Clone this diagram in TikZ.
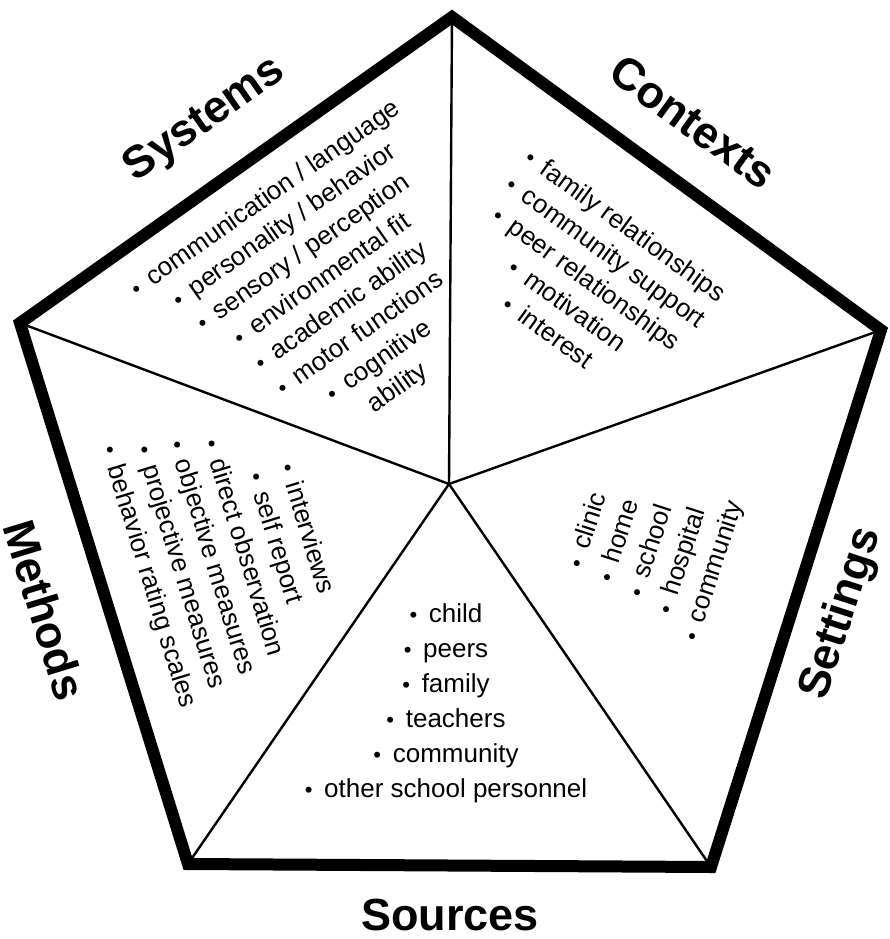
\documentclass[tikz,border=0pt]{standalone}
\usepackage{fontspec}
\setmainfont{Liberation Sans}
\newcommand\bul{{\fontsize{22}{22}\selectfont •}\hspace{0.45em}}
\begin{document}
\begin{tikzpicture}[x=1pt,y=-1pt,
  rim/.style={line width=12pt,line join=miter},
  spoke/.style={line width=2.4pt},
  title/.style={font=\fontsize{45}{45}\selectfont\bfseries,inner sep=0pt},
  lst/.style={align=center,font=\fontsize{26}{33}\selectfont,inner sep=0pt},
  lstwide/.style={lst,font=\fontsize{26}{35}\selectfont}]
\path[use as bounding box] (0,0) rectangle (889,939);

% pentagon corners and hub
\coordinate (t)  at (452,17);
\coordinate (r)  at (881,330);
\coordinate (br) at (711,867);
\coordinate (bl) at (188,864);
\coordinate (l)  at (20,323);
\coordinate (c)  at (449,484);

% spokes from the hub
\foreach \v in {t,r,br,bl,l} \draw[spoke] (c) -- (\v);

% outer rim
\draw[rim] (t) -- (r) -- (br) -- (bl) -- (l) -- cycle;

% section titles
\node[title,rotate=35]  (systems)  at (205,120) {Systems};
\node[title,rotate=-36] (contexts) at (693,122) {Contexts};
\node[title,rotate=72]  (settings) at (842,614) {Settings};
\node[title]            (sources)  at (450,915) {Sources};
\node[title,rotate=-73] (methods)  at (45,610)  {Methods};

% section contents
\node[lst,rotate=35] (syslist) at (332,294) {%
  \bul communication / language\\
  \bul personality / behavior\\
  \bul sensory / perception\\
  \bul environmental fit\\
  \bul academic ability\\
  \bul motor functions\\
  \bul cognitive\\
  ability};

\node[lst,rotate=-36] (ctxlist) at (587,278) {%
  \bul family relationships\\
  \bul community support\\
  \bul peer relationships\\
  \bul motivation\\
  \bul interest};

\node[lst,rotate=72] (setlist) at (651,551) {%
  \bul clinic\\
  \bul home\\
  \bul school\\
  \bul hospital\\
  \bul community};

\node[lstwide] (srclist) at (446,703) {%
  \bul child\\
  \bul peers\\
  \bul family\\
  \bul teachers\\
  \bul community\\
  \bul other school personnel};

\node[lst,rotate=-73] (metlist) at (227,553) {%
  \bul interviews\\
  \bul self report\\
  \bul direct observation\\
  \bul objective measures\\
  \bul projective measures\\
  \bul behavior rating scales};
\end{tikzpicture}
\end{document}
